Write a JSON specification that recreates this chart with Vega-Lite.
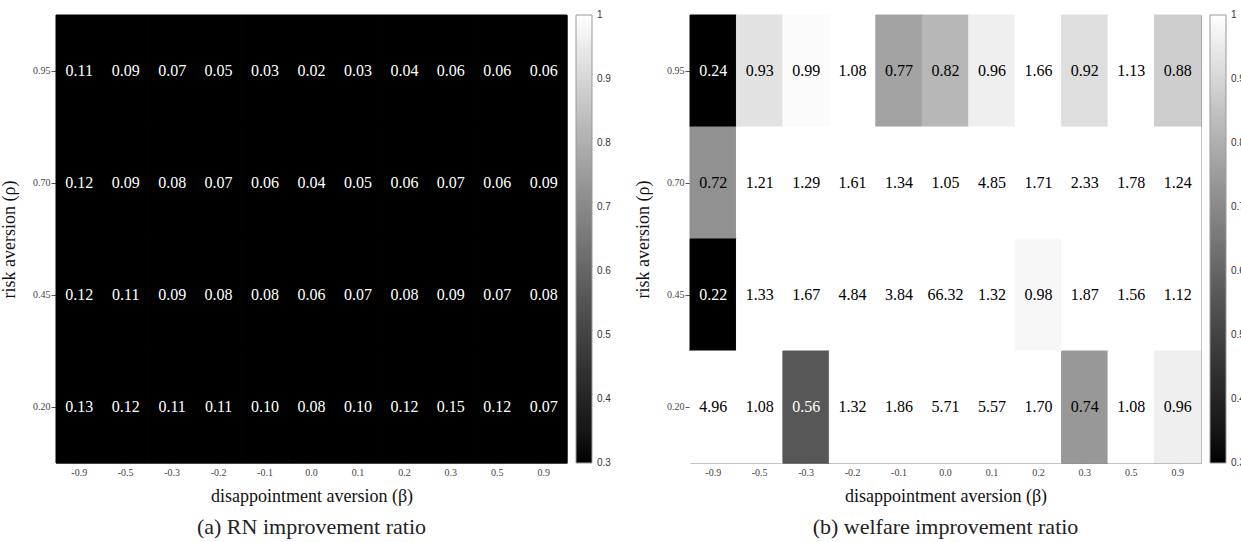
{
  "$schema": "https://vega.github.io/schema/vega-lite/v6.json",
  "background": "white",
  "padding": {"left": 0, "top": 14, "right": 0, "bottom": 0},
  "datasets": {
    "rn": [
      {"rho": "0.95", "beta": "-0.9", "value": 0.11}, {"rho": "0.95", "beta": "-0.5", "value": 0.09}, {"rho": "0.95", "beta": "-0.3", "value": 0.07}, {"rho": "0.95", "beta": "-0.2", "value": 0.05}, {"rho": "0.95", "beta": "-0.1", "value": 0.03}, {"rho": "0.95", "beta": "0.0", "value": 0.02}, {"rho": "0.95", "beta": "0.1", "value": 0.03}, {"rho": "0.95", "beta": "0.2", "value": 0.04}, {"rho": "0.95", "beta": "0.3", "value": 0.06}, {"rho": "0.95", "beta": "0.5", "value": 0.06}, {"rho": "0.95", "beta": "0.9", "value": 0.06},
      {"rho": "0.70", "beta": "-0.9", "value": 0.12}, {"rho": "0.70", "beta": "-0.5", "value": 0.09}, {"rho": "0.70", "beta": "-0.3", "value": 0.08}, {"rho": "0.70", "beta": "-0.2", "value": 0.07}, {"rho": "0.70", "beta": "-0.1", "value": 0.06}, {"rho": "0.70", "beta": "0.0", "value": 0.04}, {"rho": "0.70", "beta": "0.1", "value": 0.05}, {"rho": "0.70", "beta": "0.2", "value": 0.06}, {"rho": "0.70", "beta": "0.3", "value": 0.07}, {"rho": "0.70", "beta": "0.5", "value": 0.06}, {"rho": "0.70", "beta": "0.9", "value": 0.09},
      {"rho": "0.45", "beta": "-0.9", "value": 0.12}, {"rho": "0.45", "beta": "-0.5", "value": 0.11}, {"rho": "0.45", "beta": "-0.3", "value": 0.09}, {"rho": "0.45", "beta": "-0.2", "value": 0.08}, {"rho": "0.45", "beta": "-0.1", "value": 0.08}, {"rho": "0.45", "beta": "0.0", "value": 0.06}, {"rho": "0.45", "beta": "0.1", "value": 0.07}, {"rho": "0.45", "beta": "0.2", "value": 0.08}, {"rho": "0.45", "beta": "0.3", "value": 0.09}, {"rho": "0.45", "beta": "0.5", "value": 0.07}, {"rho": "0.45", "beta": "0.9", "value": 0.08},
      {"rho": "0.20", "beta": "-0.9", "value": 0.13}, {"rho": "0.20", "beta": "-0.5", "value": 0.12}, {"rho": "0.20", "beta": "-0.3", "value": 0.11}, {"rho": "0.20", "beta": "-0.2", "value": 0.11}, {"rho": "0.20", "beta": "-0.1", "value": 0.10}, {"rho": "0.20", "beta": "0.0", "value": 0.08}, {"rho": "0.20", "beta": "0.1", "value": 0.10}, {"rho": "0.20", "beta": "0.2", "value": 0.12}, {"rho": "0.20", "beta": "0.3", "value": 0.15}, {"rho": "0.20", "beta": "0.5", "value": 0.12}, {"rho": "0.20", "beta": "0.9", "value": 0.07}
    ],
    "welfare": [
      {"rho": "0.95", "beta": "-0.9", "value": 0.24}, {"rho": "0.95", "beta": "-0.5", "value": 0.93}, {"rho": "0.95", "beta": "-0.3", "value": 0.99}, {"rho": "0.95", "beta": "-0.2", "value": 1.08}, {"rho": "0.95", "beta": "-0.1", "value": 0.77}, {"rho": "0.95", "beta": "0.0", "value": 0.82}, {"rho": "0.95", "beta": "0.1", "value": 0.96}, {"rho": "0.95", "beta": "0.2", "value": 1.66}, {"rho": "0.95", "beta": "0.3", "value": 0.92}, {"rho": "0.95", "beta": "0.5", "value": 1.13}, {"rho": "0.95", "beta": "0.9", "value": 0.88},
      {"rho": "0.70", "beta": "-0.9", "value": 0.72}, {"rho": "0.70", "beta": "-0.5", "value": 1.21}, {"rho": "0.70", "beta": "-0.3", "value": 1.29}, {"rho": "0.70", "beta": "-0.2", "value": 1.61}, {"rho": "0.70", "beta": "-0.1", "value": 1.34}, {"rho": "0.70", "beta": "0.0", "value": 1.05}, {"rho": "0.70", "beta": "0.1", "value": 4.85}, {"rho": "0.70", "beta": "0.2", "value": 1.71}, {"rho": "0.70", "beta": "0.3", "value": 2.33}, {"rho": "0.70", "beta": "0.5", "value": 1.78}, {"rho": "0.70", "beta": "0.9", "value": 1.24},
      {"rho": "0.45", "beta": "-0.9", "value": 0.22}, {"rho": "0.45", "beta": "-0.5", "value": 1.33}, {"rho": "0.45", "beta": "-0.3", "value": 1.67}, {"rho": "0.45", "beta": "-0.2", "value": 4.84}, {"rho": "0.45", "beta": "-0.1", "value": 3.84}, {"rho": "0.45", "beta": "0.0", "value": 66.32}, {"rho": "0.45", "beta": "0.1", "value": 1.32}, {"rho": "0.45", "beta": "0.2", "value": 0.98}, {"rho": "0.45", "beta": "0.3", "value": 1.87}, {"rho": "0.45", "beta": "0.5", "value": 1.56}, {"rho": "0.45", "beta": "0.9", "value": 1.12},
      {"rho": "0.20", "beta": "-0.9", "value": 4.96}, {"rho": "0.20", "beta": "-0.5", "value": 1.08}, {"rho": "0.20", "beta": "-0.3", "value": 0.56}, {"rho": "0.20", "beta": "-0.2", "value": 1.32}, {"rho": "0.20", "beta": "-0.1", "value": 1.86}, {"rho": "0.20", "beta": "0.0", "value": 5.71}, {"rho": "0.20", "beta": "0.1", "value": 5.57}, {"rho": "0.20", "beta": "0.2", "value": 1.70}, {"rho": "0.20", "beta": "0.3", "value": 0.74}, {"rho": "0.20", "beta": "0.5", "value": 1.08}, {"rho": "0.20", "beta": "0.9", "value": 0.96}
    ]
  },
  "config": {
    "view": {"stroke": "#8a8a8a", "strokeWidth": 1},
    "axis": {
      "labelFont": "Liberation Serif",
      "labelFontSize": 10,
      "labelColor": "#444444",
      "titleFont": "Liberation Serif",
      "titleFontSize": 18,
      "titleFontWeight": "normal",
      "titleColor": "#111111",
      "tickColor": "#555555",
      "domain": false,
      "grid": false,
      "zindex": 1
    },
    "legend": {
      "labelFont": "Liberation Sans",
      "labelFontSize": 10,
      "labelColor": "#333333",
      "gradientStrokeColor": "#999999",
      "gradientStrokeWidth": 1
    },
    "title": {
      "font": "Liberation Serif",
      "fontSize": 22,
      "fontWeight": "normal",
      "color": "#222222",
      "orient": "bottom",
      "anchor": "middle",
      "offset": 12
    }
  },
  "spacing": 22,
  "resolve": {"scale": {"color": "independent"}, "legend": {"color": "independent"}},
  "hconcat": [
    {
      "width": 511,
      "height": 448,
      "data": {"name": "rn"},
      "title": "(a) RN improvement ratio",
      "resolve": {"axis": {"x": "independent", "y": "independent"}},
      "layer": [
        {
          "mark": {"type": "rect", "strokeWidth": 1},
          "encoding": {
            "x": {
              "field": "beta", "type": "ordinal",
              "sort": ["-0.9", "-0.5", "-0.3", "-0.2", "-0.1", "0.0", "0.1", "0.2", "0.3", "0.5", "0.9"],
              "scale": {"paddingInner": 0, "paddingOuter": 0},
              "axis": {"title": "disappointment aversion (β)", "labelAngle": 0, "tickSize": -5, "labelPadding": 9, "titlePadding": 10}
            },
            "y": {
              "field": "rho", "type": "ordinal",
              "sort": ["0.95", "0.70", "0.45", "0.20"],
              "scale": {"paddingInner": 0, "paddingOuter": 0},
              "axis": {"title": "risk aversion (ρ)", "tickSize": 5, "labelPadding": 1, "titlePadding": 14}
            },
            "color": {
              "field": "value", "type": "quantitative",
              "scale": {"domain": [0.3, 1], "range": ["#000000", "#ffffff"], "clamp": true},
              "legend": {
                "title": null, "orient": "none", "legendX": 520, "legendY": 0, "direction": "vertical",
                "gradientLength": 448, "gradientThickness": 16,
                "values": [0.3, 0.4, 0.5, 0.6, 0.7, 0.8, 0.9, 1], "format": ".1~f", "labelOffset": 5,
                "labelBaseline": "middle",
                "encode": {"labels": {"update": {"baseline": {"value": "middle"}}}}
              }
            },
            "stroke": {
              "field": "value", "type": "quantitative",
              "scale": {"domain": [0.3, 1], "range": ["#000000", "#ffffff"], "clamp": true},
              "legend": null
            }
          }
        },
        {
          "mark": {"type": "text", "font": "Liberation Serif", "fontSize": 16},
          "encoding": {
            "x": {
              "field": "beta", "type": "ordinal",
              "sort": ["-0.9", "-0.5", "-0.3", "-0.2", "-0.1", "0.0", "0.1", "0.2", "0.3", "0.5", "0.9"],
              "axis": {"orient": "top", "title": null, "labels": false, "tickSize": -5}
            },
            "y": {
              "field": "rho", "type": "ordinal",
              "sort": ["0.95", "0.70", "0.45", "0.20"],
              "axis": {"orient": "right", "title": null, "labels": false, "tickSize": -5}
            },
            "text": {"field": "value", "type": "quantitative", "format": ".2f"},
            "color": {"condition": {"test": "datum.value < 0.6", "value": "#ffffff"}, "value": "#000000"}
          }
        }
      ]
    },
    {
      "width": 511,
      "height": 448,
      "data": {"name": "welfare"},
      "title": "(b) welfare improvement ratio",
      "resolve": {"axis": {"x": "independent", "y": "independent"}},
      "layer": [
        {
          "mark": {"type": "rect", "strokeWidth": 1},
          "encoding": {
            "x": {
              "field": "beta", "type": "ordinal",
              "sort": ["-0.9", "-0.5", "-0.3", "-0.2", "-0.1", "0.0", "0.1", "0.2", "0.3", "0.5", "0.9"],
              "scale": {"paddingInner": 0, "paddingOuter": 0},
              "axis": {"title": "disappointment aversion (β)", "labelAngle": 0, "tickSize": -5, "labelPadding": 9, "titlePadding": 10}
            },
            "y": {
              "field": "rho", "type": "ordinal",
              "sort": ["0.95", "0.70", "0.45", "0.20"],
              "scale": {"paddingInner": 0, "paddingOuter": 0},
              "axis": {"title": "risk aversion (ρ)", "tickSize": 5, "labelPadding": 1, "titlePadding": 14}
            },
            "color": {
              "field": "value", "type": "quantitative",
              "scale": {"domain": [0.3, 1], "range": ["#000000", "#ffffff"], "clamp": true},
              "legend": {
                "title": null, "orient": "none", "legendX": 520, "legendY": 0, "direction": "vertical",
                "gradientLength": 448, "gradientThickness": 16,
                "values": [0.3, 0.4, 0.5, 0.6, 0.7, 0.8, 0.9, 1], "format": ".1~f", "labelOffset": 5,
                "labelBaseline": "middle",
                "encode": {"labels": {"update": {"baseline": {"value": "middle"}}}}
              }
            },
            "stroke": {
              "field": "value", "type": "quantitative",
              "scale": {"domain": [0.3, 1], "range": ["#000000", "#ffffff"], "clamp": true},
              "legend": null
            }
          }
        },
        {
          "mark": {"type": "text", "font": "Liberation Serif", "fontSize": 16},
          "encoding": {
            "x": {
              "field": "beta", "type": "ordinal",
              "sort": ["-0.9", "-0.5", "-0.3", "-0.2", "-0.1", "0.0", "0.1", "0.2", "0.3", "0.5", "0.9"],
              "axis": {"orient": "top", "title": null, "labels": false, "tickSize": -5}
            },
            "y": {
              "field": "rho", "type": "ordinal",
              "sort": ["0.95", "0.70", "0.45", "0.20"],
              "axis": {"orient": "right", "title": null, "labels": false, "tickSize": -5}
            },
            "text": {"field": "value", "type": "quantitative", "format": ".2f"},
            "color": {"condition": {"test": "datum.value < 0.6", "value": "#ffffff"}, "value": "#000000"}
          }
        }
      ]
    }
  ]
}
